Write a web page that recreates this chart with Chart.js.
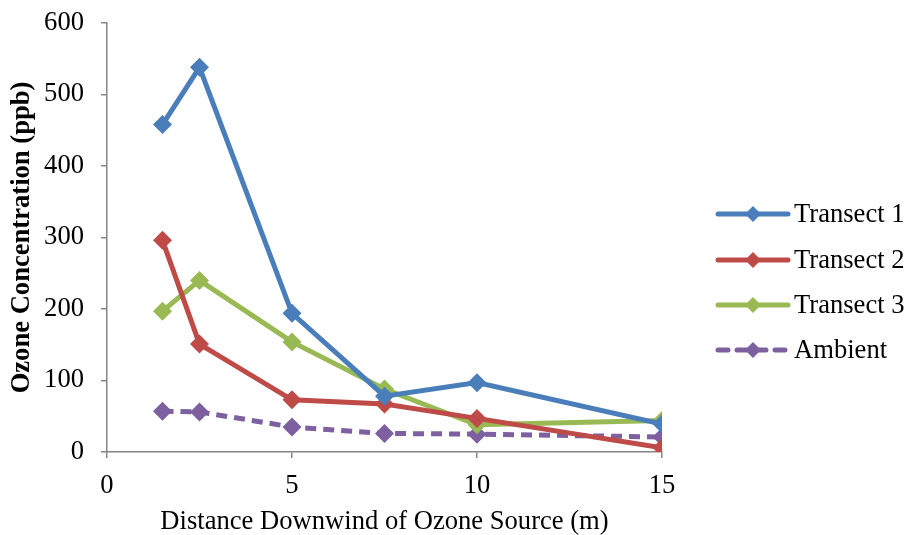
<!DOCTYPE html>
<html>
<head>
<meta charset="utf-8">
<script src="https://cdn.jsdelivr.net/npm/chart.js@4.4.1/dist/chart.umd.min.js"></script>
<style>
  html, body { margin: 0; padding: 0; background: #ffffff; }
  #wrap { width: 909px; height: 535px; position: relative; }
</style>
</head>
<body>
<div id="wrap"><canvas id="c" width="909" height="535"></canvas></div>
<script>
// Distance downwind (m) at each sampling point
const distances = [1.5, 2.5, 5, 7.5, 10, 15];

// Ozone concentration (ppb) per transect
const transect1 = [458, 538, 194, 78, 97, 39];
const transect2 = [296, 151, 73, 67, 47, 6];
const transect3 = [197, 240, 154, 88, 38, 44];
const ambient   = [57, 56, 35, 26, 25, 21];

const seriesNames = ['Transect 1', 'Transect 2', 'Transect 3', 'Ambient'];
const seriesValues = [transect1, transect2, transect3, ambient];
const seriesColors = ['#4A7EBB', '#BE4B48', '#98B954', '#7D60A0'];
const seriesDashed = [false, false, false, true];

const yTicks = [0, 100, 200, 300, 400, 500, 600];
const xTicks = [0, 5, 10, 15];

const FONT = "'Liberation Serif', 'Times New Roman', serif";
const FONT_SIZE = 26.6;
const AXIS_GRAY = '#868686';

const datasets = seriesNames.map((name, i) => ({
  label: name,
  data: distances.map((d, k) => ({ x: d, y: seriesValues[i][k] })),
  showLine: true,
  borderColor: seriesColors[i],
  backgroundColor: seriesColors[i],
  borderWidth: 5,
  borderDash: seriesDashed[i] ? [11, 7] : [],
  pointStyle: 'rectRot',
  pointRadius: 9.5,
  pointBorderWidth: 0,
  pointHoverRadius: 9.5,
  tension: 0
}));

// Legend at the right: a short line sample with a diamond, then the name
const sideLegend = {
  id: 'sideLegend',
  afterDraw(chart) {
    const ctx = chart.ctx;
    const x0 = 718, x1 = 788, tx = 794;
    const rows = [214, 260, 305, 350];
    ctx.save();
    seriesNames.forEach((name, i) => {
      const y = rows[i];
      ctx.strokeStyle = seriesColors[i];
      ctx.fillStyle = seriesColors[i];
      ctx.lineWidth = 5;
      ctx.lineCap = 'round';
      ctx.setLineDash(seriesDashed[i] ? [10, 9] : []);
      ctx.beginPath();
      ctx.moveTo(x0, y);
      ctx.lineTo(x1, y);
      ctx.stroke();
      ctx.setLineDash([]);
      const cx = (x0 + x1) / 2, r = 8;
      ctx.beginPath();
      ctx.moveTo(cx, y - r);
      ctx.lineTo(cx + r, y);
      ctx.lineTo(cx, y + r);
      ctx.lineTo(cx - r, y);
      ctx.closePath();
      ctx.fill();
      ctx.fillStyle = '#000000';
      ctx.font = FONT_SIZE + 'px ' + FONT;
      ctx.textBaseline = 'middle';
      ctx.textAlign = 'left';
      ctx.fillText(name, tx, y + 1);
    });
    ctx.restore();
  }
};

new Chart(document.getElementById('c'), {
  type: 'scatter',
  data: { datasets },
  plugins: [sideLegend],
  options: {
    responsive: false,
    animation: false,
    events: [],
    layout: { padding: { top: 23, right: 247, left: 0, bottom: 0 } },
    plugins: { legend: { display: false }, tooltip: { enabled: false } },
    scales: {
      x: {
        type: 'linear',
        min: 0, max: 15,
        afterFit(s) { s.height = 83; s.paddingLeft = 0; s.paddingRight = 0; },
        afterBuildTicks(s) { s.ticks = xTicks.map(v => ({ value: v })); },
        grid: { drawOnChartArea: false, drawTicks: true, tickLength: 6, color: AXIS_GRAY, lineWidth: 1.5 },
        border: { color: AXIS_GRAY, width: 1.5 },
        ticks: { color: '#000', font: { family: FONT, size: FONT_SIZE }, padding: 12, maxRotation: 0 },
        title: { display: true, text: 'Distance Downwind of Ozone Source (m)', color: '#000',
                 font: { family: FONT, size: FONT_SIZE, lineHeight: 1 }, padding: { top: 0, bottom: 0 } }
      },
      y: {
        min: 0, max: 600,
        afterFit(s) { s.width = 107; s.paddingTop = 0; s.paddingBottom = 0; },
        afterBuildTicks(s) { s.ticks = yTicks.map(v => ({ value: v })); },
        grid: { drawOnChartArea: false, drawTicks: true, tickLength: 6, color: AXIS_GRAY, lineWidth: 1.5 },
        border: { color: AXIS_GRAY, width: 1.5 },
        ticks: { color: '#000', font: { family: FONT, size: FONT_SIZE }, padding: 17 },
        title: { display: true, text: 'Ozone Concentration (ppb)', color: '#000',
                 font: { family: FONT, size: FONT_SIZE, weight: 'bold' }, padding: { top: 6, bottom: 0 } }
      }
    }
  }
});
</script>
</body>
</html>
